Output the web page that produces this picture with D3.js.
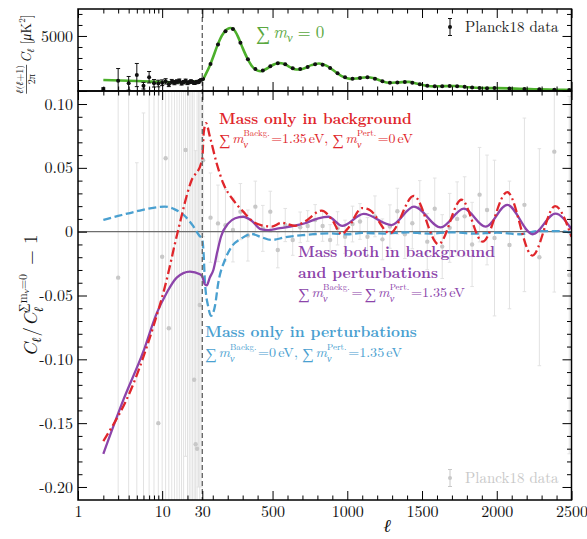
<!DOCTYPE html>
<html><head><meta charset="utf-8">
<script src="https://cdn.jsdelivr.net/npm/d3@7"></script>
<style>
html,body{margin:0;padding:0;background:#fff;}
svg{display:block;font-family:"Latin Modern Roman","Liberation Serif",serif;}
text{white-space:pre;}
</style></head><body>
<svg id="chart" width="587" height="539"></svg>
<script>
// ---------------- data ----------------
// Planck18 TT, unbinned low multipoles: D_ell = ell(ell+1)C_ell/2pi [muK^2]
const ellLow = [2,3,4,5,6,7,8,9,10,11,12,13,14,15,16,17,18,19,20,21,22,23,24,25,26,27,28,29];
const ttLow = [180,940,700,1450,480,1250,700,680,750,880,620,850,760,840,920,700,800,930,720,800,880,820,720,760,850,800,930,1000];
const ttLowErr = [110,1100,620,1050,300,520,340,300,260,240,220,200,190,180,170,160,150,150,140,130,130,120,120,110,110,100,100,100];

// Planck18 TT, binned high multipoles
const ellBin = [35,85,135,185,235,285,335,385,435,485,535,585,635,685,735,785,835,885,935,985,1035,1085,1135,1185,1235,1285,1335,1385,1435,1485,1535,1585,1635,1685,1735,1785,1835,1885,1935,1985,2085,2185,2285,2385,2485];
const ttBin = [1090,2460,4230,5420,5640,4390,2890,2010,1870,2240,2520,2420,2070,1990,2190,2430,2390,2080,1610,1250,1110,1170,1245,1120,890,750,780,815,750,610,470,425,430,447,430,378,318,281,258,262,236,188,148,123,97];
const ttBinErr = [40,35,35,35,30,30,25,25,20,20,20,20,20,18,18,18,18,16,16,14,14,14,14,12,12,12,12,12,12,10,10,10,10,10,10,10,10,10,10,10,10,10,10,10,10];

// LCDM model with sum m_nu = 0
const modelEll = [2,4,7,10,15,20,25,30,50,80,100,130,160,200,220,240,270,300,330,360,400,420,450,500,540,580,620,660,700,760,810,860,920,970,1020,1070,1130,1180,1230,1280,1340,1410,1470,1530,1580,1650,1720,1790,1860,1930,2000,2080,2150,2250,2350,2450,2500];
const modelD = [1000,930,860,820,790,790,850,950,1450,2300,3000,4100,5000,5650,5720,5600,4900,3900,3000,2300,1850,1800,1950,2350,2550,2450,2150,1950,2000,2350,2500,2300,1750,1300,1100,1150,1250,1150,900,750,780,830,650,480,420,440,450,370,290,260,260,240,200,160,130,105,95];

// Planck18 residuals relative to the sum m_nu = 0 model
const resLow = [-0.78,-0.036,0.30,-0.40,-0.50,0.30,-0.30,-0.150,-0.0196,0.0575,-0.0757,0.25,-0.25,0.25,-0.30,0.28,-0.22,0.064,-0.30,0.23,-0.24,0.25,-0.116,-0.1665,-0.17,0.22,-0.0574,0.21];
const resLowErr = [0.50,0.60,0.60,0.454,0.593,0.60,0.45,0.40,0.35,0.35,0.33,0.50,0.38,0.50,0.45,0.50,0.45,0.24,0.45,0.45,0.40,0.47,0.30,0.23,0.28,0.42,0.25,0.41];
const resBin = [0.056,0.011,0.0065,0.005,0.0013,0.0157,-0.003,0.0196,0.0026,0.0157,-0.0143,0.0052,-0.0065,0.0034,0.0045,0.0092,0.0045,-0.0065,0.0026,-0.004,0.006,0.008,-0.004,0.012,-0.006,0.004,0.016,-0.002,0.0066,0.019,-0.0078,0.018,-0.0117,0.003,0.010,0.012,-0.010,0.029,0.017,-0.005,-0.0104,0.021,-0.020,0.0627,-0.034];
const resBinErr = [0.06,0.035,0.03,0.028,0.025,0.022,0.02,0.02,0.018,0.016,0.014,0.013,0.012,0.012,0.012,0.012,0.012,0.012,0.013,0.013,0.014,0.014,0.015,0.016,0.016,0.017,0.018,0.019,0.02,0.021,0.022,0.024,0.025,0.027,0.029,0.031,0.033,0.037,0.043,0.061,0.05,0.068,0.085,0.11,0.14];

// C_ell / C_ell(sum m_nu = 0) - 1 for the three neutrino treatments
const bgEll =   [2,4.5,7.85,10.8,15.4,22.2,29.2,30,40,55,81,126,170,237,304,371,427,494,561,650,717,828,900,962,1000,1100,1150,1285,1445,1610,1764,1905,2070,2238,2390,2500];
const bgRatio = [-0.164,-0.120,-0.0744,-0.043,0.0005,0.0397,0.054,0.057,0.078,0.085,0.0744,0.0536,0.0379,0.0248,0.0157,0.0078,0.005,0.004,0.007,0.0045,0.008,0.0165,0.009,-0.002,0.002,0.0185,0.017,-0.0013,0.028,-0.0098,0.025,-0.0078,0.031,-0.0187,0.020,-0.004];

const bothEll =   [2,3.45,5.97,8.61,11.3,14.9,21.4,28.2,30,45,60,80,104,130,155,204,250,304,360,420,470,540,640,717,806,873,967,1110,1296,1446,1625,1780,1925,2070,2240,2392,2500];
const bothRatio = [-0.174,-0.132,-0.094,-0.064,-0.048,-0.036,-0.0313,-0.0334,-0.035,-0.041,-0.042,-0.036,-0.030,-0.016,-0.004,0.0065,0.0105,0.0117,0.0086,0.002,0.0012,0.0025,0.0045,0.0066,0.0105,0.0117,0.0045,0.0139,0.0052,0.0196,0.0033,0.018,0.0039,0.021,-0.002,0.0142,0.002];

const pertEll =   [2,3,5.16,8.15,10.7,14.1,18.6,23.3,27.6,30,37,48,70,88,115,137,182,227,293,360,427,494,583,717,873,1000,1100,1250,1400,1550,1700,1850,2000,2150,2280,2400,2500];
const pertRatio = [0.0092,0.0123,0.0162,0.0188,0.0196,0.0175,0.0123,0.0045,-0.003,-0.006,-0.014,-0.040,-0.059,-0.066,-0.058,-0.040,-0.022,-0.0117,-0.0052,-0.0018,-0.0044,-0.0065,-0.0044,-0.0026,-0.0013,-0.002,-0.001,-0.0015,-0.0005,-0.0015,-0.0005,-0.0015,-0.0008,-0.002,0.0005,0.0005,-0.0008];

// axis ticks
const xMajorLog = [1,10,30];
const xMinorLog = [2,3,4,5,6,7,8,9,20];
const xMajorLin = [500,1000,1500,2000,2500];
const xMinorLin = [100,200,300,400,600,700,800,900,1100,1200,1300,1400,1600,1700,1800,1900,2100,2200,2300,2400];
const yTopMajor = [0,5000];
const yTopLabels = ["","5000"];
const yTopMinor = [1000,2000,3000,4000,6000,7000];
const yBotMajor = [-0.20,-0.15,-0.10,-0.05,0,0.05,0.10];
const yBotLabels = ["-0.20","-0.15","-0.10","-0.05","0","0.05","0.10"];
const yBotMinor = [-0.19,-0.18,-0.17,-0.16,-0.14,-0.13,-0.12,-0.11,-0.09,-0.08,-0.07,-0.06,-0.04,-0.03,-0.02,-0.01,0.01,0.02,0.03,0.04,0.06,0.07,0.08,0.09];

// ---------------- layout ----------------
const FONT = "Latin Modern Roman, Liberation Serif, serif";
const RED = "#e0262b", PURPLE = "#8c44aa", BLUE = "#4aa0d0", GREEN = "#4caf2b";
const GREY_BAR = "#e2e2e2", GREY_PT = "#c8c8c8";
const L = 78, R = 571.5, T = 9, M = 91, B = 500, XS = 202.3;

const svg = d3.select("#chart");

// hybrid multipole axis: logarithmic up to ell = 30, linear beyond
const xLog = d3.scaleLog().domain([1, 30]).range([L, XS]);
const xLin = d3.scaleLinear().domain([30, 2500]).range([XS, R]);
const x = l => (l <= 30 ? xLog(l) : xLin(l));
const yTop = d3.scaleLinear().domain([0, 7450]).range([M, T]);
const yBot = d3.scaleLinear().domain([-0.2102, 0.1102]).range([B, M]);

const defs = svg.append("defs");
defs.append("clipPath").attr("id", "clipTop").append("rect")
  .attr("x", L).attr("y", T).attr("width", R - L).attr("height", M - T);
defs.append("clipPath").attr("id", "clipBot").append("rect")
  .attr("x", L).attr("y", M).attr("width", R - L).attr("height", B - M);

function errorBars(g, ells, vals, errs, y, opt) {
  const idx = d3.range(ells.length);
  g.selectAll(null).data(idx).join("line")
    .attr("x1", i => x(ells[i])).attr("x2", i => x(ells[i]))
    .attr("y1", i => y(vals[i] - errs[i])).attr("y2", i => y(vals[i] + errs[i]))
    .attr("stroke", opt.bar).attr("stroke-width", opt.w);
  [-1, 1].forEach(s => {
    g.selectAll(null).data(idx).join("line")
      .attr("x1", i => x(ells[i]) - opt.cap).attr("x2", i => x(ells[i]) + opt.cap)
      .attr("y1", i => y(vals[i] + s * errs[i])).attr("y2", i => y(vals[i] + s * errs[i]))
      .attr("stroke", opt.bar).attr("stroke-width", opt.w);
  });
  g.selectAll(null).data(idx).join("circle")
    .attr("cx", i => x(ells[i])).attr("cy", i => y(vals[i]))
    .attr("r", opt.r).attr("fill", opt.dot);
}

// ---------------- top panel ----------------
const gTop = svg.append("g").attr("clip-path", "url(#clipTop)");
gTop.append("path")
  .datum(modelEll.map((l, i) => [l, modelD[i]]))
  .attr("d", d3.line().x(d => x(d[0])).y(d => yTop(d[1])).curve(d3.curveMonotoneX))
  .attr("fill", "none").attr("stroke", GREEN).attr("stroke-width", 2.6);
errorBars(gTop, ellLow, ttLow, ttLowErr, yTop, {bar: "#111", w: 1, cap: 2, r: 2, dot: "#111"});
errorBars(gTop, ellBin, ttBin, ttBinErr, yTop, {bar: "#111", w: 1, cap: 1.2, r: 2, dot: "#111"});

// ---------------- bottom panel ----------------
const gBot = svg.append("g").attr("clip-path", "url(#clipBot)");
errorBars(gBot, ellLow, resLow, resLowErr, yBot, {bar: GREY_BAR, w: 1, cap: 1.8, r: 2.2, dot: GREY_PT});
errorBars(gBot, ellBin, resBin, resBinErr, yBot, {bar: GREY_BAR, w: 1, cap: 1.8, r: 2.2, dot: GREY_PT});

gBot.append("line").attr("x1", L).attr("x2", R).attr("y1", yBot(0)).attr("y2", yBot(0))
  .attr("stroke", "#6e6e6e").attr("stroke-width", 1.3);

const ratioLine = d3.line().x(d => x(d[0])).y(d => yBot(d[1])).curve(d3.curveMonotoneX);
gBot.append("path").datum(pertEll.map((l, i) => [l, pertRatio[i]])).attr("d", ratioLine)
  .attr("fill", "none").attr("stroke", BLUE).attr("stroke-width", 2.3).attr("stroke-dasharray", "8,3.6");
gBot.append("path").datum(bothEll.map((l, i) => [l, bothRatio[i]])).attr("d", ratioLine)
  .attr("fill", "none").attr("stroke", PURPLE).attr("stroke-width", 2.3);
gBot.append("path").datum(bgEll.map((l, i) => [l, bgRatio[i]])).attr("d", ratioLine)
  .attr("fill", "none").attr("stroke", RED).attr("stroke-width", 2.3).attr("stroke-dasharray", "9,3.5,2,3.5");

// vertical marker at ell = 30 across both panels
svg.append("line").attr("x1", x(30)).attr("x2", x(30)).attr("y1", T).attr("y2", B)
  .attr("stroke", "#6a6a6a").attr("stroke-width", 1.4).attr("stroke-dasharray", "5,3");

// ---------------- axes ----------------
function styleAxis(g) {
  g.attr("font-family", FONT);
  g.select(".domain").remove();
  g.selectAll(".tick line").attr("stroke", "#000").attr("stroke-width", 1);
  g.selectAll(".tick text").attr("font-family", FONT).attr("font-size", 16).attr("fill", "#111");
}
function xTicks(yPos, maker, labels) {
  [[xLog, xMajorLog, 9], [xLog, xMinorLog, 4.5], [xLin, xMajorLin, 9], [xLin, xMinorLin, 4.5]].forEach(([sc, vals, len]) => {
    const ax = maker(sc).tickValues(vals).tickSize(-len).tickPadding(6)
      .tickFormat(labels && len > 5 ? d3.format("d") : "");
    svg.append("g").attr("transform", `translate(0,${yPos})`).call(ax).call(styleAxis);
  });
}
xTicks(B, d3.axisBottom, true);   // bottom panel, labelled
xTicks(M, d3.axisTop, false);     // top edge of bottom panel
xTicks(M, d3.axisBottom, false);  // bottom edge of top panel
xTicks(T, d3.axisTop, false);     // top edge of top panel

function yTicks(sc, major, labels, minor) {
  svg.append("g").attr("transform", `translate(${L},0)`)
    .call(d3.axisLeft(sc).tickValues(major).tickSize(-9).tickPadding(5).tickFormat((d, i) => labels[i])).call(styleAxis);
  svg.append("g").attr("transform", `translate(${L},0)`)
    .call(d3.axisLeft(sc).tickValues(minor).tickSize(-4.5).tickFormat("")).call(styleAxis);
  svg.append("g").attr("transform", `translate(${R},0)`)
    .call(d3.axisRight(sc).tickValues(major).tickSize(-9).tickFormat("")).call(styleAxis);
  svg.append("g").attr("transform", `translate(${R},0)`)
    .call(d3.axisRight(sc).tickValues(minor).tickSize(-4.5).tickFormat("")).call(styleAxis);
}
yTicks(yTop, yTopMajor, yTopLabels, yTopMinor);
yTicks(yBot, yBotMajor, yBotLabels, yBotMinor);

// panel frames
svg.append("rect").attr("x", L).attr("y", T).attr("width", R - L).attr("height", M - T)
  .attr("fill", "none").attr("stroke", "#000").attr("stroke-width", 1.5);
svg.append("rect").attr("x", L).attr("y", M).attr("width", R - L).attr("height", B - M)
  .attr("fill", "none").attr("stroke", "#000").attr("stroke-width", 1.5);

// ---------------- typeset helpers ----------------
// Each piece of a formula is its own <text>; stacked pieces share one slot.
function mathRow(parent, pieces, opt) {
  const g = parent.append("g");
  let cx = 0;
  const put = (p, at) => {
    const t = g.append("text").attr("x", at + (p.dx || 0)).attr("y", p.dy || 0)
      .attr("font-family", FONT)
      .attr("font-size", p.s || opt.s)
      .attr("font-style", p.i ? "italic" : "normal")
      .attr("fill", opt.fill).text(p.t);
    return (p.dx || 0) + t.node().getComputedTextLength();
  };
  pieces.forEach(p => {
    if (p.stack) { let w = 0; p.stack.forEach(q => { w = Math.max(w, put(q, cx)); }); cx += w; }
    else cx += put(p, cx);
    cx += p.sp || 0;
  });
  return {g, w: cx};
}
const sumM = tag => [
  {t: "\u2211", s: 15.5, dy: 1.5, sp: 1.5},
  {t: "m", i: true},
  {stack: [{t: tag, s: 8.5, dy: -7}, {t: "\u03bd", i: true, s: 9.5, dy: 5}], sp: 1.5}
];
// place a formula at (xx, yy), stretched horizontally so that it spans targetW pixels
function place(r, xx, yy, targetW) {
  const k = targetW ? targetW / r.w : 1;
  r.g.attr("transform", `translate(${xx},${yy}) scale(${k},1)`);
  return r;
}
function title(txt, xx, yy, color, targetW) {
  const t = svg.append("text").attr("x", xx).attr("y", yy).attr("font-family", FONT).attr("font-size", 16)
    .attr("font-weight", "bold").attr("fill", color).text(txt);
  const w = t.node().getComputedTextLength();
  t.attr("font-size", Math.max(15, Math.min(17.5, 16 * targetW / w)));
}

// ---------------- annotations ----------------
title("Mass only in background", 219, 124, RED, 193);
place(mathRow(svg, [...sumM("Backg."), {t: "=1.35", sp: 2}, {t: "eV,", sp: 4}, ...sumM("Pert."), {t: "=0", sp: 2}, {t: "eV"}],
  {s: 13.2, fill: RED}), 219, 143, 194);

title("Mass both in background", 298, 257, PURPLE, 197);
title("and perturbations", 298, 278, PURPLE, 140);
place(mathRow(svg, [...sumM("Backg."), {t: "=", sp: 2}, ...sumM("Pert."), {t: "=1.35", sp: 2}, {t: "eV"}],
  {s: 13.2, fill: PURPLE}), 298, 297, 167);

title("Mass only in perturbations", 205, 337, BLUE, 212);
place(mathRow(svg, [...sumM("Backg."), {t: "=0", sp: 2}, {t: "eV,", sp: 4}, ...sumM("Pert."), {t: "=1.35", sp: 2}, {t: "eV"}],
  {s: 13.2, fill: BLUE}), 205, 357, 197);

// model label in the top panel
place(mathRow(svg, [{t: "\u2211", s: 20, dy: 1.5, sp: 3}, {t: "m", i: true}, {t: "\u03bd", i: true, s: 12, dy: 4, sp: 5},
  {t: "=", sp: 5}, {t: "0"}], {s: 17, fill: "#5aa83e"}), 256, 38);

// legends
function legendMark(xx, yy, color, txt, txtColor) {
  const g = svg.append("g");
  g.append("line").attr("x1", xx).attr("x2", xx).attr("y1", yy - 8.5).attr("y2", yy + 8.5).attr("stroke", color).attr("stroke-width", 1);
  [-8.5, 8.5].forEach(d => g.append("line").attr("x1", xx - 2).attr("x2", xx + 2).attr("y1", yy + d).attr("y2", yy + d)
    .attr("stroke", color).attr("stroke-width", 1));
  g.append("circle").attr("cx", xx).attr("cy", yy).attr("r", 2).attr("fill", color);
  g.append("text").attr("x", xx + 15).attr("y", yy + 5).attr("font-family", FONT).attr("font-size", 15).attr("fill", txtColor).text(txt);
}
legendMark(450, 27, "#111", "Planck18 data", "#222");
legendMark(450, 478, "#c8c8c8", "Planck18 data", "#c8c8c8");

// axis titles
svg.append("text").attr("x", 387).attr("y", 532).attr("font-family", FONT).attr("font-size", 18).attr("font-style", "italic")
  .attr("text-anchor", "middle").attr("fill", "#111").text("\u2113");

// C_ell / C_ell^{sum m_nu = 0} - 1
const gy = svg.append("g").attr("transform", `translate(37,${(M + B) / 2}) rotate(-90)`);
const yl = mathRow(gy, [
  {t: "C", i: true},
  {t: "\u2113", i: true, s: 13, dy: 4, sp: 1},
  {t: "/", sp: 1},
  {t: "C", i: true},
  {stack: [{t: "\u2113", i: true, s: 13, dy: 5.5}, {t: "\u2211", s: 12, dy: -10}], sp: 0.5},
  {t: "m", s: 12, dy: -10},
  {t: "\u03bd", i: true, s: 9, dy: -8},
  {t: "=0", s: 12, dy: -10, sp: 9},
  {t: "\u2212", sp: 6},
  {t: "1"}
], {s: 19, fill: "#111"});
yl.g.attr("transform", `translate(${-yl.w / 2},0)`);

// ell(ell+1)/2pi C_ell [muK^2]
const gt = svg.append("g").attr("transform", `translate(31,${(T + M) / 2 + 4}) rotate(-90)`);
const frac = gt.append("g");
const num = mathRow(frac, [{t: "\u2113", i: true}, {t: "(", sp: 0}, {t: "\u2113", i: true}, {t: "+1)"}], {s: 10, fill: "#111"});
const den = mathRow(frac, [{t: "2\u03c0"}], {s: 10, fill: "#111"});
const fw = Math.max(num.w, den.w);
num.g.attr("transform", `translate(${(fw - num.w) / 2},-8)`);
den.g.attr("transform", `translate(${(fw - den.w) / 2},4)`);
frac.append("line").attr("x1", 0).attr("x2", fw).attr("y1", -4.5).attr("y2", -4.5).attr("stroke", "#111").attr("stroke-width", 0.7);
const rest = mathRow(gt, [{t: "C", i: true, sp: 0}, {t: "\u2113", i: true, s: 10, dy: 3, sp: 4},
  {t: "[", sp: 0}, {t: "\u03bc", i: true}, {t: "K"}, {t: "2", s: 9, dy: -6}, {t: "]"}], {s: 14, fill: "#111"});
const totalW = fw + 2 + rest.w;
frac.attr("transform", `translate(${-totalW / 2},0)`);
rest.g.attr("transform", `translate(${-totalW / 2 + fw + 2},0)`);
</script>
</body></html>
